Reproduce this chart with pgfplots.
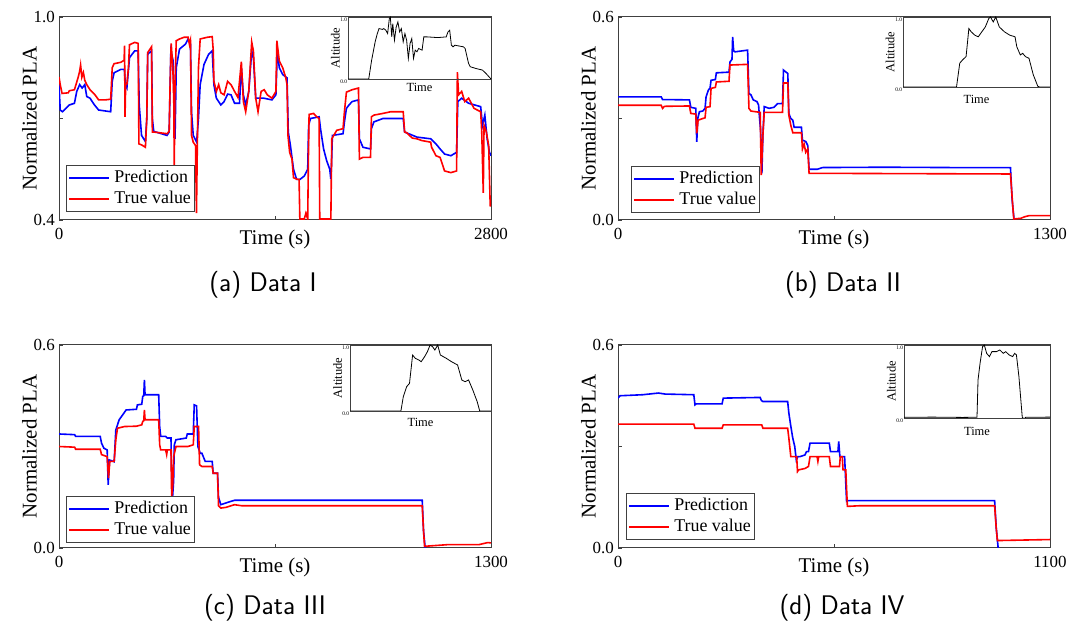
\documentclass[border=0pt]{standalone}
\usepackage{fontspec}
\setmainfont{Liberation Serif}
\usepackage{pgfplots}
\pgfplotsset{compat=1.18}
\definecolor{frm}{gray}{0.25}
\tikzset{pred/.style={blue, line width=1.6bp}, truev/.style={red, line width=1.6bp}, alt/.style={black, line width=0.8bp}}
\pgfplotsset{
  mainax/.style={
    scale only axis, width=432bp, height=203bp, anchor=south west,
    axis line style={frm, line width=1bp},
    tick style={frm, line width=0.8bp},
    major tick length=4bp, tick align=inside,
    xtick pos=bottom, ytick pos=left,
    /pgf/number format/assume math mode=true,
    ticklabel style={font=\fontsize{17}{17}\selectfont},
    xticklabel style={inner sep=0pt, yshift=-8bp},
    yticklabel style={inner sep=0pt, xshift=-4bp},
    label style={font=\fontsize{21}{21}\selectfont},
    xlabel={Time (s)}, ylabel={Normalized PLA},
    xlabel style={at={(axis description cs:0.5,0)}, anchor=north, inner sep=0pt, yshift=-10bp},
    ylabel style={at={(axis description cs:-0.051,0.5)}, anchor=south, inner sep=0pt},
    legend cell align=left,
    legend image code/.code={\draw[#1] (0bp,0bp) -- (40bp,0bp);},
    legend style={draw=frm, line width=0.8bp, fill=white, inner xsep=2bp, inner ysep=3bp,
      font=\fontsize{18}{18}\selectfont, anchor=south west, row sep=2bp,
      nodes={inner sep=1.5bp, text height=12.5bp, text depth=3.5bp},
      /tikz/every odd column/.append style={column sep=3bp}},
  },
  inax/.style={
    scale only axis, anchor=south west, xmin=0, xmax=1, ymin=0, ymax=1,
    axis line style={frm, line width=0.8bp},
    xtick=\empty, ytick={0,1}, yticklabels={0.0,1.0},
    major tick length=0pt, ytick pos=left,
    yticklabel style={font=\fontsize{5.5}{5.5}\selectfont, anchor=north east, inner sep=0.7bp},
    label style={font=\fontsize{12.5}{12.5}\selectfont},
    xlabel={Time}, ylabel={Altitude},
    xlabel style={at={(axis description cs:0.5,0)}, anchor=north, inner sep=0pt, yshift=-5bp},
    ylabel style={at={(axis description cs:-0.056,0.5)}, anchor=south, inner sep=0pt},
  },
}
\begin{document}
\begin{tikzpicture}
\useasboundingbox (0,0) rectangle (1080bp,633bp);
% ---------------- (a)
\begin{axis}[mainax, at={(59bp,413bp)}, xmin=0, xmax=2800, ymin=0.4, ymax=1.0,
  xtick={0,1400,2800}, xticklabels={0,,2800}, ytick={0.4,0.7,1.0}, yticklabels={0.4,,1.0},
  legend style={at={(axis description cs:0.016,0.039)}}]
\addplot[pred] coordinates {(0,0.80) (8,0.725) (22,0.72) (67,0.74) (100,0.745) (115,0.78) (134,0.80) (150,0.79) (167,0.80) (180,0.765) (201,0.76) (230,0.74) (257,0.725) (335,0.72) (345,0.81) (357,0.835) (400,0.845) (424,0.845) (430,0.80) (440,0.79) (457,0.88) (491,0.90) (513,0.90) (520,0.74) (535,0.65) (560,0.632) (569,0.70) (575,0.89) (600,0.90) (605,0.70) (614,0.662) (700,0.65) (714,0.66) (725,0.90) (740,0.87) (747,0.72) (752,0.64) (760,0.85) (781,0.905) (820,0.92) (837,0.935) (852,0.92) (859,0.72) (870,0.65) (892,0.63) (904,0.70) (915,0.80) (940,0.86) (970,0.89) (993,0.90) (1004,0.80) (1020,0.76) (1049,0.74) (1070,0.75) (1093,0.772) (1115,0.77) (1138,0.745) (1170,0.745) (1182,0.85) (1195,0.77) (1210,0.74) (1230,0.78) (1249,0.90) (1260,0.88) (1275,0.76) (1327,0.76) (1380,0.755) (1406,0.77) (1415,0.90) (1428,0.85) (1450,0.83) (1478,0.82) (1486,0.66) (1500,0.62) (1520,0.55) (1540,0.52) (1562,0.52) (1590,0.53) (1612,0.55) (1618,0.68) (1630,0.70) (1686,0.705) (1695,0.67) (1715,0.61) (1735,0.575) (1755,0.55) (1762,0.52) (1766,0.56) (1772,0.65) (1841,0.655) (1850,0.69) (1863,0.73) (1880,0.74) (1900,0.75) (1941,0.755) (1947,0.64) (1970,0.615) (2019,0.61) (2025,0.67) (2041,0.69) (2100,0.70) (2231,0.70) (2240,0.66) (2320,0.645) (2409,0.64) (2443,0.625) (2470,0.61) (2499,0.595) (2540,0.59) (2577,0.60) (2585,0.75) (2610,0.76) (2655,0.745) (2733,0.735) (2745,0.68) (2760,0.71) (2775,0.64) (2790,0.60) (2800,0.59)};
\addlegendentry{Prediction}
\addplot[truev] coordinates {(0,0.823) (8,0.80) (20,0.774) (60,0.776) (67,0.782) (100,0.785) (110,0.80) (125,0.823) (134,0.84) (140,0.858) (148,0.822) (158,0.836) (167,0.813) (180,0.80) (201,0.785) (230,0.772) (257,0.755) (300,0.755) (335,0.757) (345,0.85) (357,0.862) (400,0.866) (422,0.872) (425,0.915) (428,0.705) (432,0.80) (440,0.802) (450,0.85) (457,0.918) (491,0.925) (513,0.922) (518,0.625) (535,0.622) (560,0.615) (569,0.70) (575,0.895) (600,0.912) (605,0.66) (614,0.66) (650,0.658) (700,0.655) (714,0.662) (720,0.80) (727,0.922) (738,0.85) (744,0.75) (747,0.56) (752,0.80) (760,0.93) (781,0.935) (810,0.94) (837,0.94) (845,0.92) (852,0.932) (859,0.65) (870,0.63) (885,0.62) (891,0.42) (896,0.60) (904,0.85) (915,0.935) (960,0.94) (993,0.942) (1000,0.90) (1004,0.81) (1020,0.78) (1035,0.80) (1049,0.776) (1070,0.77) (1093,0.81) (1115,0.80) (1138,0.78) (1160,0.762) (1182,0.868) (1195,0.75) (1210,0.72) (1230,0.78) (1249,0.926) (1260,0.90) (1275,0.76) (1290,0.72) (1310,0.78) (1330,0.785) (1350,0.77) (1380,0.76) (1406,0.78) (1412,0.93) (1428,0.87) (1450,0.85) (1470,0.82) (1478,0.80) (1484,0.65) (1495,0.60) (1510,0.58) (1520,0.525) (1545,0.52) (1556,0.52) (1561,0.403) (1590,0.403) (1600,0.42) (1612,0.403) (1617,0.60) (1621,0.712) (1650,0.715) (1670,0.705) (1686,0.70) (1690,0.403) (1762,0.403) (1768,0.64) (1800,0.665) (1841,0.67) (1850,0.72) (1863,0.778) (1900,0.785) (1941,0.79) (1947,0.58) (1970,0.585) (2019,0.585) (2025,0.705) (2041,0.71) (2100,0.715) (2150,0.72) (2231,0.72) (2240,0.66) (2253,0.658) (2290,0.642) (2320,0.64) (2350,0.635) (2409,0.63) (2415,0.615) (2443,0.59) (2470,0.585) (2499,0.545) (2540,0.54) (2577,0.545) (2582,0.837) (2590,0.77) (2610,0.78) (2630,0.75) (2655,0.76) (2690,0.73) (2733,0.72) (2740,0.66) (2750,0.48) (2755,0.68) (2770,0.66) (2785,0.62) (2795,0.44) (2800,0.46)};
\addlegendentry{True value}
\end{axis}
\begin{axis}[inax, at={(348bp,554bp)}, width=143bp, height=62bp, xlabel style={yshift=1bp}]
\addplot[alt] coordinates {(0,0) (0.145,0) (0.165,0.3) (0.19,0.6) (0.205,0.733) (0.217,0.813) (0.241,0.80) (0.25,0.813) (0.265,0.786) (0.277,0.733) (0.289,0.973) (0.296,1.0) (0.306,0.679) (0.313,0.893) (0.325,0.626) (0.337,0.84) (0.349,0.92) (0.361,0.759) (0.373,0.813) (0.386,0.599) (0.398,0.733) (0.41,0.626) (0.422,0.332) (0.434,0.572) (0.446,0.652) (0.458,0.332) (0.47,0.465) (0.482,0.439) (0.494,0.492) (0.518,0.465) (0.53,0.679) (0.554,0.679) (0.627,0.668) (0.687,0.679) (0.699,0.759) (0.711,0.786) (0.723,0.545) (0.735,0.519) (0.747,0.545) (0.807,0.519) (0.819,0.492) (0.843,0.251) (0.855,0.198) (0.892,0.171) (0.94,0.144) (0.964,0.091) (1.0,0)};
\end{axis}
% ---------------- (b)
\begin{axis}[mainax, at={(618bp,413bp)}, xmin=0, xmax=1300, ymin=0, ymax=0.6,
  xtick={0,650,1300}, xticklabels={0,,1300}, ytick={0,0.3,0.6}, yticklabels={0.0,,0.6},
  legend style={at={(axis description cs:0.030,0.034)}}]
\addplot[pred] coordinates {(0,0.364) (130,0.364) (134,0.356) (215,0.355) (219,0.333) (234,0.330) (237,0.231) (240,0.30) (245,0.32) (255,0.322) (262,0.33) (265,0.364) (272,0.384) (277,0.39) (280,0.413) (293,0.415) (296,0.435) (334,0.437) (337,0.467) (343,0.475) (345,0.541) (348,0.50) (352,0.497) (390,0.502) (394,0.374) (400,0.37) (407,0.355) (418,0.35) (423,0.34) (426,0.30) (429,0.266) (433,0.138) (436,0.25) (440,0.335) (455,0.33) (469,0.333) (480,0.344) (495,0.344) (498,0.443) (507,0.436) (511,0.433) (514,0.315) (520,0.30) (526,0.295) (530,0.274) (552,0.274) (555,0.236) (565,0.232) (571,0.22) (575,0.150) (600,0.150) (615,0.155) (800,0.156) (1000,0.155) (1181,0.155) (1186,0.06) (1192,0.0)};
\addlegendentry{Prediction}
\addplot[truev] coordinates {(0,0.339) (130,0.339) (134,0.33) (140,0.336) (215,0.337) (219,0.315) (234,0.313) (237,0.256) (241,0.295) (255,0.30) (262,0.302) (265,0.333) (277,0.335) (280,0.389) (293,0.392) (296,0.408) (334,0.41) (337,0.458) (390,0.46) (394,0.33) (400,0.322) (428,0.318) (431,0.133) (436,0.25) (440,0.318) (495,0.318) (498,0.405) (511,0.405) (514,0.31) (520,0.28) (526,0.258) (552,0.258) (555,0.21) (560,0.225) (565,0.20) (571,0.21) (575,0.138) (1181,0.136) (1188,0.04) (1191,0.003) (1212,0.005) (1225,0.01) (1238,0.013) (1300,0.013)};
\addlegendentry{True value}
\end{axis}
\begin{axis}[inax, at={(903bp,546bp)}, width=147bp, height=70bp, xlabel style={yshift=-3bp}]
\addplot[alt] coordinates {(0,0) (0.364,0) (0.386,0.34) (0.405,0.387) (0.429,0.434) (0.448,0.835) (0.464,0.788) (0.488,0.741) (0.512,0.717) (0.536,0.788) (0.56,0.858) (0.583,0.976) (0.595,1.0) (0.614,0.929) (0.631,1.0) (0.655,0.858) (0.69,0.788) (0.726,0.741) (0.762,0.717) (0.774,0.575) (0.798,0.458) (0.814,0.481) (0.833,0.434) (0.857,0.41) (0.886,0.175) (0.917,0.01) (0.929,0) (1,0)};
\end{axis}
% ---------------- (c)
\begin{axis}[mainax, at={(59bp,85bp)}, xmin=0, xmax=1300, ymin=0, ymax=0.6,
  xtick={0,650,1300}, xticklabels={0,,1300}, ytick={0,0.3,0.6}, yticklabels={0.0,,0.6},
  legend style={at={(axis description cs:0.016,0.025)}}]
\addplot[pred] coordinates {(0,0.337) (47,0.335) (50,0.33) (124,0.33) (128,0.31) (135,0.295) (145,0.29) (148,0.187) (152,0.26) (166,0.255) (171,0.349) (181,0.379) (192,0.394) (202,0.408) (233,0.41) (236,0.423) (249,0.425) (252,0.448) (255,0.45) (257,0.497) (259,0.453) (300,0.453) (303,0.359) (306,0.33) (321,0.33) (326,0.325) (337,0.325) (339,0.212) (342,0.153) (345,0.20) (347,0.305) (352,0.32) (383,0.325) (386,0.337) (404,0.337) (407,0.423) (414,0.42) (418,0.30) (425,0.28) (430,0.28) (440,0.256) (461,0.256) (464,0.221) (477,0.221) (480,0.15) (487,0.128) (508,0.135) (528,0.141) (1093,0.141) (1097,0.05) (1102,0.0)};
\addlegendentry{Prediction}
\addplot[truev] coordinates {(0,0.30) (47,0.298) (50,0.292) (124,0.292) (128,0.276) (145,0.27) (149,0.207) (153,0.256) (166,0.256) (171,0.32) (176,0.354) (197,0.359) (233,0.36) (249,0.364) (252,0.374) (255,0.376) (257,0.408) (259,0.379) (300,0.379) (303,0.305) (306,0.29) (321,0.29) (324,0.276) (326,0.29) (337,0.29) (339,0.153) (342,0.18) (345,0.27) (352,0.30) (388,0.30) (404,0.305) (407,0.359) (420,0.359) (423,0.246) (430,0.241) (461,0.241) (464,0.221) (477,0.221) (480,0.125) (487,0.118) (502,0.12) (528,0.128) (549,0.125) (1093,0.125) (1097,0.05) (1100,0.005) (1171,0.01) (1264,0.01) (1290,0.016) (1300,0.015)};
\addlegendentry{True value}
\end{axis}
\begin{axis}[inax, at={(350bp,222bp)}, width=141bp, height=66bp, xlabel style={yshift=-2bp}]
\addplot[alt] coordinates {(0,0) (0.361,0) (0.378,0.217) (0.402,0.369) (0.422,0.419) (0.444,0.848) (0.463,0.798) (0.488,0.773) (0.505,0.747) (0.529,0.823) (0.549,0.899) (0.568,1.0) (0.585,0.975) (0.602,0.924) (0.622,1.0) (0.641,0.848) (0.683,0.798) (0.72,0.747) (0.763,0.697) (0.793,0.47) (0.817,0.444) (0.841,0.47) (0.871,0.318) (0.902,0.141) (0.92,0) (1,0)};
\end{axis}
% ---------------- (d)
\begin{axis}[mainax, at={(618bp,85bp)}, xmin=0, xmax=1100, ymin=0, ymax=0.6,
  xtick={0,550,1100}, xticklabels={0,,1100}, ytick={0,0.3,0.6}, yticklabels={0.0,,0.6},
  legend style={at={(axis description cs:0.018,0.040)}}]
\addplot[pred] coordinates {(0,0.443) (5,0.45) (63,0.453) (103,0.458) (120,0.455) (193,0.453) (196,0.423) (199,0.426) (265,0.426) (268,0.443) (362,0.445) (365,0.436) (369,0.433) (432,0.433) (435,0.399) (440,0.36) (445,0.325) (450,0.30) (454,0.26) (458,0.27) (463,0.27) (476,0.275) (480,0.285) (485,0.285) (489,0.31) (538,0.31) (541,0.285) (560,0.285) (562,0.315) (565,0.27) (577,0.27) (582,0.138) (586,0.14) (959,0.14) (963,0.06) (968,0.0)};
\addlegendentry{Prediction}
\addplot[truev] coordinates {(0,0.366) (193,0.366) (196,0.354) (265,0.354) (268,0.364) (366,0.364) (369,0.354) (432,0.354) (435,0.325) (440,0.27) (455,0.27) (457,0.226) (460,0.231) (476,0.235) (485,0.241) (489,0.27) (507,0.27) (509,0.256) (511,0.27) (538,0.27) (541,0.241) (564,0.241) (566,0.27) (571,0.27) (573,0.231) (580,0.231) (584,0.123) (617,0.125) (959,0.125) (963,0.06) (966,0.022) (1100,0.025)};
\addlegendentry{True value}
\end{axis}
\begin{axis}[inax, at={(904bp,215bp)}, width=146bp, height=73bp, xlabel style={yshift=-4bp}]
\addplot[alt] coordinates {(0,0.01) (0.2,0.012) (0.4,0.008) (0.49,0.01) (0.5,0.012) (0.507,0.523) (0.521,0.75) (0.538,0.977) (0.55,1.0) (0.566,0.886) (0.585,0.841) (0.602,0.909) (0.633,0.909) (0.656,0.932) (0.68,0.886) (0.697,0.909) (0.72,0.864) (0.744,0.841) (0.758,0.886) (0.77,0.864) (0.787,0.568) (0.81,0.01) (0.822,-0.01) (0.834,0.01) (1,0.012)};
\end{axis}
% captions
\node[font=\sffamily\fontsize{27}{27}\selectfont] at (263bp,348bp) {(a) Data I};
\node[font=\sffamily\fontsize{27}{27}\selectfont] at (843bp,348bp) {(b) Data II};
\node[font=\sffamily\fontsize{27}{27}\selectfont] at (265bp,25bp) {(c) Data III};
\node[font=\sffamily\fontsize{27}{27}\selectfont] at (842bp,25bp) {(d) Data IV};
\end{tikzpicture}
\end{document}
